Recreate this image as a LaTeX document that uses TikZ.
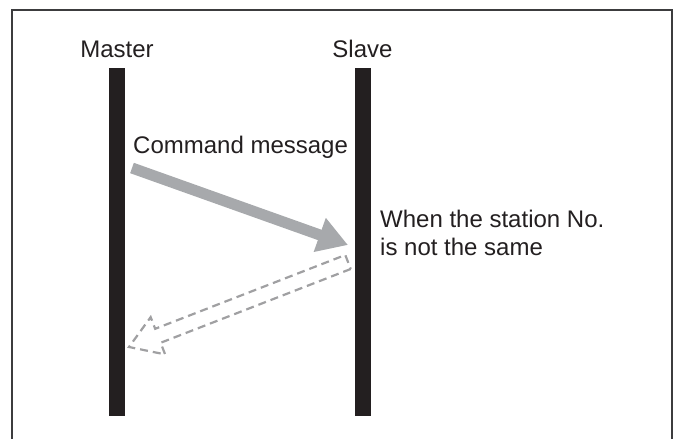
\documentclass[tikz,border=0pt]{standalone}
\usepackage{fontspec}
\setmainfont{Liberation Sans}
\usepackage{tikz}
\usetikzlibrary{positioning,arrows.meta,calc}
\definecolor{barblack}{RGB}{35,31,32}
\definecolor{framegray}{RGB}{60,60,62}
\definecolor{msggray}{RGB}{167,169,172}
\definecolor{replygray}{RGB}{160,160,162}
\begin{document}
\begin{tikzpicture}[x=1pt,y=-1pt,
  lifeline/.style={fill=barblack,draw=none,minimum width=16pt,minimum height=348pt,inner sep=0pt},
  lbl/.style={font=\fontsize{24}{28}\selectfont,text=barblack,inner sep=0pt},
  msgarrow/.style={draw=msggray,line width=11pt,-{Triangle[length=30pt,width=34pt]}},
  replybox/.style={draw=replygray,line width=2.2pt,dash pattern=on 8pt off 5pt,line join=miter}]
\useasboundingbox (0,0) rectangle (678,439);
\draw[framegray,line width=2.5pt] (12,440) -- (12,10) -- (672,10) -- (672,440);
\node[lifeline] (master) at (117,242) {};
\node[lifeline] (slave) at (362.5,242) {};
\node[lbl,anchor=base] (masterlbl) at (master.north |- 0,57) {Master};
\node[lbl,anchor=base] (slavelbl) at (slave.north |- 0,57) {Slave};
\node[lbl,anchor=base west] (cmdlbl) at (133,153) {Command message};
\node[lbl,anchor=base west,align=left] (difflbl) at (380,255) {When the station No.\\is not the same};
\coordinate (cmdtail) at (132,168);
\coordinate (cmdtip) at (348,245);
\draw[msgarrow] (cmdtail) -- (cmdtip);
\coordinate (rtail) at (348,262);
\coordinate (rtip) at (129,347);
\coordinate (rneck) at ($(rtip)!31pt!(rtail)$);
\draw[replybox] ($(rtail)!7.5pt!90:(rtip)$) -- ($(rneck)!7.5pt!90:(rtip)$)
  -- ($(rneck)!20pt!90:(rtip)$) -- (rtip) -- ($(rneck)!20pt!-90:(rtip)$)
  -- ($(rneck)!7.5pt!-90:(rtip)$) -- ($(rtail)!7.5pt!-90:(rtip)$) -- cycle;
\end{tikzpicture}
\end{document}
